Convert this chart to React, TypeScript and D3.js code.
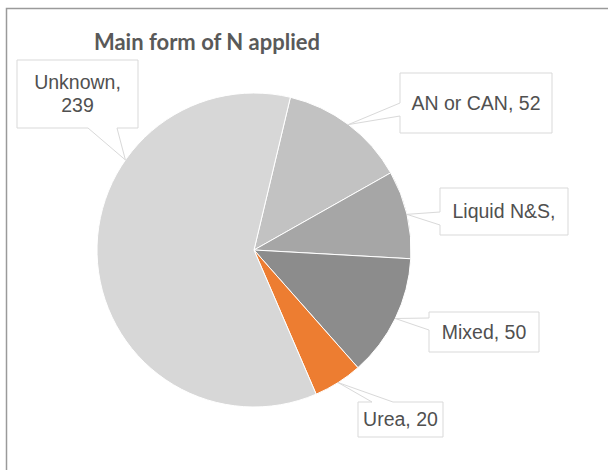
import React from "react";
import * as d3 from "d3";

// Main form of N applied (count of respondents)
const categories = ["AN or CAN", "Liquid N&S", "Mixed", "Urea", "Unknown"];
const values = [52, 36, 50, 20, 239];
const colors = ["#c2c2c2", "#a6a6a6", "#8c8c8c", "#ed7d31", "#d7d7d7"];
// Callout label lines (the Liquid N&S label is clipped in its box)
const labelLines = [["AN or CAN, 52"], ["Liquid N&S,"], ["Mixed, 50"], ["Urea, 20"], ["Unknown,", "239"]];

const W = 608;
const H = 470;
const cx = 254;
const cy = 250;
const R = 157;
const startDeg = 13.4;

// Callout boxes: rect + side of the wedge + wedge base span along that side
type Box = { x: number; y: number; w: number; h: number; side: "left" | "top" | "bottom"; b1: number; b2: number; anchorDeg?: number };
const boxes: Box[] = [
  { x: 400, y: 73, w: 152, h: 60, side: "left", b1: 103, b2: 116 },
  { x: 440, y: 188, w: 128, h: 47, side: "left", b1: 212, b2: 225 },
  { x: 429, y: 312, w: 110, h: 40, side: "left", b1: 318, b2: 330 },
  { x: 358, y: 402, w: 85, h: 35, side: "top", b1: 372, b2: 393 },
  { x: 17, y: 60, w: 121, h: 68, side: "bottom", b1: 88, b2: 117, anchorDeg: 305 },
];

function calloutPath(b: Box, ax: number, ay: number): string {
  const { x, y, w, h } = b;
  const p = d3.path();
  p.moveTo(x, y);
  if (b.side === "top") {
    p.lineTo(b.b1, y);
    p.lineTo(ax, ay);
    p.lineTo(b.b2, y);
  }
  p.lineTo(x + w, y);
  p.lineTo(x + w, y + h);
  if (b.side === "bottom") {
    p.lineTo(b.b2, y + h);
    p.lineTo(ax, ay);
    p.lineTo(b.b1, y + h);
  }
  p.lineTo(x, y + h);
  if (b.side === "left") {
    p.lineTo(x, b.b2);
    p.lineTo(ax, ay);
    p.lineTo(x, b.b1);
  }
  p.closePath();
  return p.toString();
}

export default function App() {
  const start = (startDeg * Math.PI) / 180;
  const pie = d3
    .pie<number>()
    .sort(null)
    .value((d) => d)
    .startAngle(start)
    .endAngle(start + 2 * Math.PI);
  const arcs = pie(values);
  const arc = d3.arc<d3.PieArcDatum<number>>().innerRadius(0).outerRadius(R);

  const fontSize = 19.5;
  const lineH = 23;

  return (
    <svg
      width={W}
      height={H}
      style={{ position: "absolute", left: 0, top: 0, background: "#fff" }}
    >
      <rect x={6.5} y={8.5} width={W + 50} height={H + 50} fill="#fff" stroke="#9a9a9a" strokeWidth={1.5} />
      <text
        x={207}
        y={50}
        textAnchor="middle"
        fontFamily="Lato, 'Open Sans', sans-serif"
        fontWeight={700}
        fontSize={22}
        fill="#595959"
      >
        Main form of N applied
      </text>
      <g transform={`translate(${cx},${cy})`}>
        {arcs.map((a, i) => (
          <path key={categories[i]} d={arc(a) || ""} fill={colors[i]} stroke="#fff" strokeWidth={1} />
        ))}
      </g>
      {arcs.map((a, i) => {
        const b = boxes[i];
        const ang = b.anchorDeg !== undefined ? (b.anchorDeg * Math.PI) / 180 : (a.startAngle + a.endAngle) / 2;
        const ax = cx + R * Math.sin(ang);
        const ay = cy - R * Math.cos(ang);
        const lines = labelLines[i];
        const mid = b.y + b.h / 2;
        const first = mid - ((lines.length - 1) / 2) * lineH + fontSize * 0.35;
        return (
          <g key={"lbl-" + categories[i]}>
            <path d={calloutPath(b, ax, ay)} fill="#fff" stroke="#d9d9d9" strokeWidth={1} />
            <text
              textAnchor="middle"
              fontFamily="'Liberation Sans', Arial, sans-serif"
              fontSize={fontSize}
              fill="#505050"
            >
              {lines.map((ln, j) => (
                <tspan key={j} x={b.x + b.w / 2} y={first + j * lineH}>
                  {ln}
                </tspan>
              ))}
            </text>
          </g>
        );
      })}
    </svg>
  );
}
